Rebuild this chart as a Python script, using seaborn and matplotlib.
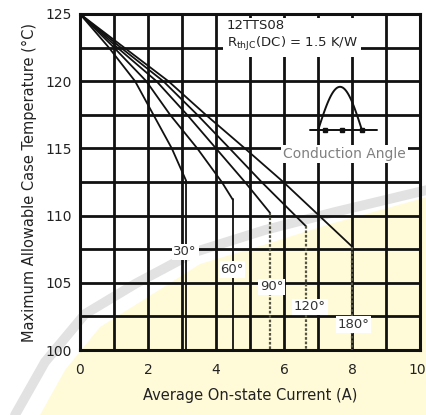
import matplotlib
matplotlib.use("Agg")
import numpy as np
import pandas as pd
import seaborn as sns
import matplotlib.pyplot as plt
import matplotlib.transforms as mtransforms
from matplotlib.patches import Polygon
from matplotlib.ticker import MultipleLocator

# ---------------- data ----------------
angles = ["30°", "60°", "90°", "120°", "180°"]
current_30 = [0, 0.85, 1.62, 2.16, 2.70, 3.12]
temp_30 = [125, 122.5, 120, 117.5, 115, 112.6]
current_60 = [0, 1.00, 1.95, 2.65, 3.45, 4.17, 4.49]
temp_60 = [125, 122.5, 120, 117.5, 115, 112.5, 111.2]
current_90 = [0, 1.10, 2.25, 3.15, 4.00, 4.85, 5.59]
temp_90 = [125, 122.5, 120, 117.5, 115, 112.5, 110.2]
current_120 = [0, 1.20, 2.45, 3.45, 4.40, 5.34, 6.65]
temp_120 = [125, 122.5, 120, 117.5, 115, 112.5, 109.2]
current_180 = [0, 1.30, 2.60, 3.70, 4.85, 5.98, 8.00]
temp_180 = [125, 122.5, 120, 117.5, 115, 112.5, 107.7]
temp_floor = 100

x_ticks = [0, 2, 4, 6, 8, 10]
y_ticks = [100, 105, 110, 115, 120, 125]
device = "12TTS08"
rth_text = r"R$_{\mathrm{thJC}}$(DC) = 1.5 K/W"

curves = {
    "30°": (current_30, temp_30),
    "60°": (current_60, temp_60),
    "90°": (current_90, temp_90),
    "120°": (current_120, temp_120),
    "180°": (current_180, temp_180),
}

rows = []
for a in angles:
    cs, ts = curves[a]
    for c, t in zip(cs, ts):
        rows.append({"angle": a, "current": c, "temp": t})
df = pd.DataFrame(rows)

drop_rows = []
for a in angles:
    cs, ts = curves[a]
    drop_rows.append({"angle": a, "current": cs[-1], "temp": ts[-1]})
    drop_rows.append({"angle": a, "current": cs[-1], "temp": temp_floor})
drops = pd.DataFrame(drop_rows)

# ---------------- figure ----------------
sns.set_theme(style="white")
plt.rcParams["font.family"] = ["DejaVu Sans"]

W, H = 427, 415
fig = plt.figure(figsize=(W / 100, H / 100), dpi=100)

def fp(pts):
    return [(x / W, 1 - y / H) for x, y in pts]

# faint watermark-like background (behind everything)
yellow = Polygon(fp([(40, 415), (65, 370), (100, 327), (140, 302), (200, 264),
                     (260, 246), (330, 224), (427, 197), (427, 415)]),
                 closed=True, transform=fig.transFigure, fc="#fffbd8", ec="none", zorder=-10)
fig.patches.append(yellow)
band_x = [15, 45, 85, 135, 195, 265, 335, 427]
band_y = [415, 362, 314, 284, 252, 230, 212, 190]
fig.lines.append(plt.Line2D([x / W for x in band_x], [1 - y / H for y in band_y],
                            transform=fig.transFigure, color="#e2e2e2", lw=7,
                            solid_capstyle="round", zorder=-9))

ax = fig.add_axes([80 / W, 1 - 350 / H, 340 / W, 336 / H])
ax.set_facecolor("none")

for a in angles:
    sub = df[df.angle == a]
    sns.lineplot(data=sub, x="current", y="temp", ax=ax, color="#111111",
                 lw=1.3, sort=False, estimator=None, legend=False, zorder=4)
for a in angles:
    sub = drops[drops.angle == a]
    solid = a in ("30°", "60°")
    sns.lineplot(data=sub, x="current", y="temp", ax=ax,
                 color="#111111" if solid else "#555544",
                 lw=1.3 if solid else 1.6,
                 linestyle="-" if solid else (0, (1.2, 0.8)),
                 sort=False, estimator=None, legend=False, zorder=4)

ax.set_xlim(0, 10)
ax.set_ylim(100, 125)
ax.set_xticks(x_ticks)
ax.set_yticks(y_ticks)
ax.xaxis.set_minor_locator(MultipleLocator(1))
ax.yaxis.set_minor_locator(MultipleLocator(2.5))
ax.grid(True, which="both", color="#111111", lw=2.0, zorder=1)
ax.set_axisbelow(True)
ax.tick_params(which="both", length=0, labelsize=10, colors="#222222")
ax.tick_params(axis="x", pad=9)
ax.tick_params(axis="y", pad=6)
for s in ax.spines.values():
    s.set_color("#111111")
    s.set_linewidth(2.2)

# keep the last x tick label inside the canvas
last = ax.get_xticklabels()[-1]
last.set_transform(last.get_transform() +
                   mtransforms.ScaledTranslation(-3 / 100, 0, fig.dpi_scale_trans))

ax.set_xlabel("Average On-state Current (A)", fontsize=10.5, color="#222222", labelpad=8)
ax.set_ylabel("Maximum Allowable Case Temperature (°C)", fontsize=10.5,
              color="#222222", labelpad=6)

# angle labels
label_pos = {"30°": (3.09, 107.3), "60°": (4.47, 106.0), "90°": (5.64, 104.7),
             "120°": (6.76, 103.2), "180°": (8.04, 101.9)}
for a in angles:
    x, y = label_pos[a]
    ax.text(x, y, a, ha="center", va="center", fontsize=9.5, color="#333333",
            zorder=6, bbox=dict(fc="white", ec="none", pad=1.2))

# device note box
ax.text(4.32, 124.65, device + "\n" + rth_text, ha="left", va="top",
        fontsize=9.5, color="#222222", linespacing=1.3, zorder=6,
        bbox=dict(fc="white", ec="none", pad=2.5))

# conduction angle note
ax.text(7.77, 114.6, "Conduction Angle", ha="center", va="center", fontsize=10,
        color="#808080", zorder=6, bbox=dict(fc="white", ec="none", pad=1.5))

# waveform icon
ins = fig.add_axes([305 / W, 1 - 142 / H, 77 / W, 62 / H])
ins.set_facecolor("white")
ins.set_xlim(0, 1)
ins.set_ylim(0, 1)
ins.axis("off")
t = np.linspace(0, np.pi, 60)
ins.plot(0.17 + (0.74 - 0.17) * t / np.pi, 0.19 + 0.70 * np.sin(t), color="#111111", lw=1.4)
ins.plot([0.065, 0.935], [0.19, 0.19], color="#111111", lw=1.4)
ins.plot([0.26, 0.477, 0.735], [0.19, 0.19, 0.19], "s", color="#111111", ms=2.5)

fig.savefig("out.png", dpi=100)
